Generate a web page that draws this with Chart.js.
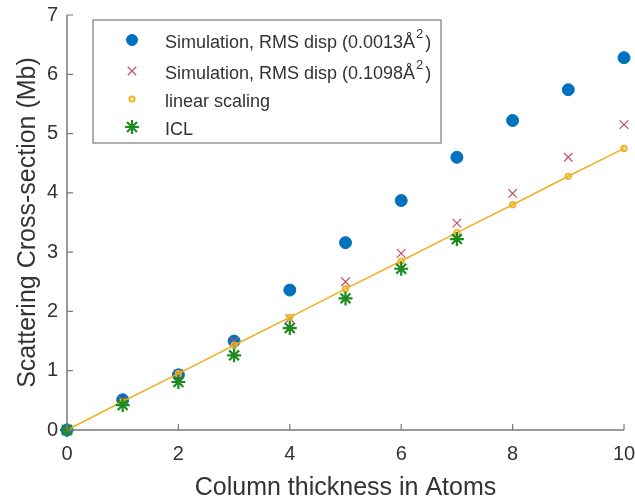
<!DOCTYPE html>
<html><head><meta charset="utf-8">
<script src="https://cdn.jsdelivr.net/npm/chart.js@4"></script>
<style>html,body{margin:0;padding:0;background:#fff}#wrap{width:635px;height:503px}</style>
</head><body><div id="wrap"><canvas id="c" width="635" height="503"></canvas></div>
<script>
const thickness = [0,1,2,3,4,5,6,7,8,9,10];
const simLow = [0,0.51,0.93,1.50,2.36,3.16,3.87,4.60,5.22,5.74,6.28];
const simHigh = [0,0.50,0.95,1.50,1.88,2.50,2.98,3.49,3.99,4.60,5.15];
const linear = [0,0.48,0.95,1.43,1.90,2.38,2.85,3.33,3.80,4.28,4.75];
const iclX = [0,1,2,3,4,5,6,7];
const icl = [0,0.42,0.81,1.26,1.72,2.22,2.72,3.22];
const xTicks = [0,2,4,6,8,10];
const yTicks = [0,1,2,3,4,5,6,7];
const legendLabels = [
  ['Simulation, RMS disp (0.0013Å', '2', ')'],
  ['Simulation, RMS disp (0.1098Å', '2', ')'],
  ['linear scaling'],
  ['ICL']
];

const pts = (xs, ys) => xs.map((x,i)=>({x, y: ys[i]}));
const FONT = '"Liberation Sans", Arial, sans-serif';
const TXT = '#333333';
const AX = '#7a7a7a';

const colors = ['#0072BD','#C0506A','#EDB120','#1E8B1E'];
const styles = [
  {pointStyle:'circle', radius:6, lw:1},
  {pointStyle:'crossRot', radius:6, lw:1.2},
  {pointStyle:'circle', radius:2.8, lw:1.6},
  {pointStyle:'star', radius:7, lw:2.2}
];

const axisPlugin = {
  id:'axisPlugin',
  afterDraw(chart){
    const {ctx, scales:{x,y}} = chart;
    ctx.save();
    ctx.strokeStyle = AX; ctx.lineWidth = 1.5;
    ctx.beginPath();
    ctx.moveTo(x.left, y.top); ctx.lineTo(x.left, y.bottom); ctx.lineTo(x.right, y.bottom);
    ctx.stroke();
    ctx.lineWidth = 1.2;
    ctx.beginPath();
    xTicks.forEach(v=>{const px=x.getPixelForValue(v); ctx.moveTo(px,y.bottom); ctx.lineTo(px,y.bottom-6);});
    yTicks.forEach(v=>{const py=y.getPixelForValue(v); ctx.moveTo(x.left,py); ctx.lineTo(x.left+6,py);});
    ctx.stroke();
    // legend
    const bx=93, by=20, bw=348, bh=123;
    ctx.fillStyle='#fff'; ctx.fillRect(bx,by,bw,bh);
    ctx.strokeStyle='#7a7a7a'; ctx.lineWidth=1.2; ctx.strokeRect(bx,by,bw,bh);
    const rowY=[40,71,99,127];
    legendLabels.forEach((lab,i)=>{
      const cy=rowY[i], mx=132;
      ctx.strokeStyle=colors[i]; ctx.fillStyle=(i===2?'rgba(237,177,32,0.35)':colors[i]); ctx.lineWidth=styles[i].lw;
      Chart.helpers.drawPoint(ctx,{pointStyle:styles[i].pointStyle, radius:(i===0?5.5:styles[i].radius), borderWidth:styles[i].lw, rotation:0}, mx, cy);
      ctx.fillStyle=TXT; ctx.textBaseline='middle'; ctx.textAlign='left';
      ctx.font='18px '+FONT;
      let tx=165;
      ctx.fillText(lab[0],tx,cy+3); tx+=ctx.measureText(lab[0]).width;
      if(lab.length>1){
        ctx.font='13px '+FONT; ctx.fillText(lab[1],tx+1,cy-6); tx+=ctx.measureText(lab[1]).width+3;
        ctx.font='18px '+FONT; ctx.fillText(lab[2],tx,cy+3);
      }
    });
    ctx.restore();
  }
};

const mk = (label, data, i, extra) => Object.assign({
  label, data, showLine:false,
  pointStyle: styles[i].pointStyle, pointRadius: styles[i].radius, pointHoverRadius: styles[i].radius,
  pointBorderWidth: styles[i].lw, pointBorderColor: colors[i],
  pointBackgroundColor: i===0 ? colors[i] : (i===2 ? 'rgba(237,177,32,0.35)' : colors[i]),
  borderColor: colors[i], order: 4-i
}, extra||{});

new Chart(document.getElementById('c'), {
  type:'scatter',
  data:{datasets:[
    mk('Simulation, RMS disp (0.0013Å²)', pts(thickness, simLow), 0),
    mk('Simulation, RMS disp (0.1098Å²)', pts(thickness, simHigh), 1),
    mk('linear scaling', pts(thickness, linear), 2, {showLine:true, borderWidth:1.5}),
    mk('ICL', pts(iclX, icl), 3)
  ]},
  options:{
    responsive:false, animation:false, devicePixelRatio:1,
    layout:{padding:{left:0,right:11,top:15,bottom:0}},
    plugins:{legend:{display:false}, tooltip:{enabled:false}},
    clip:false,
    scales:{
      x:{type:'linear', min:0, max:10,
        afterBuildTicks(s){s.ticks=xTicks.map(v=>({value:v}));},
        afterFit(s){s.height=73; s.paddingLeft=0; s.paddingRight=0;},
        border:{display:false}, grid:{display:false, drawTicks:false, tickLength:0},
        ticks:{color:TXT, font:{family:FONT,size:20}, padding:12, maxRotation:0},
        title:{display:true, text:'Column thickness in Atoms', color:TXT, font:{family:FONT,size:25}, padding:{top:0,bottom:0}}
      },
      y:{type:'linear', min:0, max:7,
        afterBuildTicks(s){s.ticks=yTicks.map(v=>({value:v}));},
        afterFit(s){s.width=67; s.paddingTop=0; s.paddingBottom=0;},
        border:{display:false}, grid:{display:false, drawTicks:false, tickLength:0},
        ticks:{color:TXT, font:{family:FONT,size:20}, padding:9},
        title:{display:true, text:'Scattering Cross-section (Mb)', color:TXT, font:{family:FONT,size:25}, padding:{top:13,bottom:0}}
      }
    }
  },
  plugins:[axisPlugin]
});
</script></body></html>
